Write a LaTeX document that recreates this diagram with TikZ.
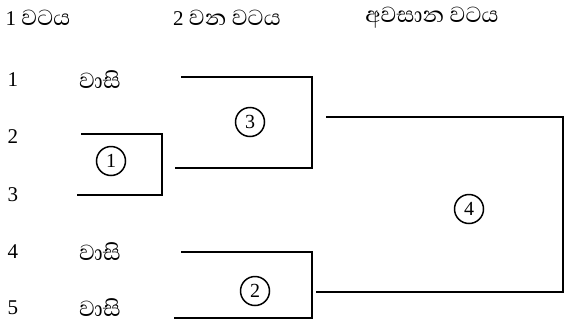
\documentclass[tikz,border=0pt]{standalone}
\usepackage{fontspec}
\setmainfont{Liberation Serif}
\newfontfamily\sinhalafnt[Script=Sinhala]{Abhaya Libre}
\newcommand{\sitxt}[1]{{\sinhalafnt\fontsize{28}{30}\selectfont #1}}
\begin{document}
\begin{tikzpicture}[x=1pt,y=-1pt,
  txt/.style={inner sep=0pt,font=\fontsize{21}{24}\selectfont},
  hdr/.style={txt},
  num/.style={circle,draw,line width=1.5pt,minimum size=29pt,inner sep=0pt,font=\fontsize{20}{22}\selectfont},
  bracket/.style={line width=2.4pt,line cap=rect}]
\useasboundingbox (0,0) rectangle (567,327);
% headers
\node[hdr] (h1) at (38,18) {1 \sitxt{වටය}};
\node[hdr] (h2) at (227,18) {2 \sitxt{වන වටය}};
\node[hdr] (h3) at (432,18) {\sitxt{අවසාන වටය}};
% rows
\node[txt] (n1) at (13,80) {1};
\node[txt] (n2) at (13,137) {2};
\node[txt] (n3) at (13,195) {3};
\node[txt] (n4) at (13,252) {4};
\node[txt] (n5) at (13,308) {5};
\node[txt] (w1) at (100,80) {\sitxt{වාසි}};
\node[txt] (w4) at (100,252) {\sitxt{වාසි}};
\node[txt] (w5) at (100,308) {\sitxt{වාසි}};
% bracket 1
\coordinate (a1) at (82,134);
\coordinate (a2) at (162,134);
\coordinate (a3) at (162,195);
\coordinate (a4) at (78,195);
\draw[bracket] (a1) -- (a2) -- (a3) -- (a4);
\node[num] (c1) at (111,161) {1};
% bracket 3
\coordinate (b1) at (182,77);
\coordinate (b2) at (312,77);
\coordinate (b3) at (312,168);
\coordinate (b4) at (176,168);
\draw[bracket] (b1) -- (b2) -- (b3) -- (b4);
\node[num] (c3) at (250,122) {3};
% bracket 2
\coordinate (d1) at (182,252);
\coordinate (d2) at (312,252);
\coordinate (d3) at (312,318);
\coordinate (d4) at (175,318);
\draw[bracket] (d1) -- (d2) -- (d3) -- (d4);
\node[num] (c2) at (255,291) {2};
% bracket 4
\coordinate (e1) at (327,117);
\coordinate (e2) at (563,117);
\coordinate (e3) at (563,292);
\coordinate (e4) at (317,292);
\draw[bracket] (e1) -- (e2) -- (e3) -- (e4);
\node[num] (c4) at (469,209) {4};
\end{tikzpicture}
\end{document}
